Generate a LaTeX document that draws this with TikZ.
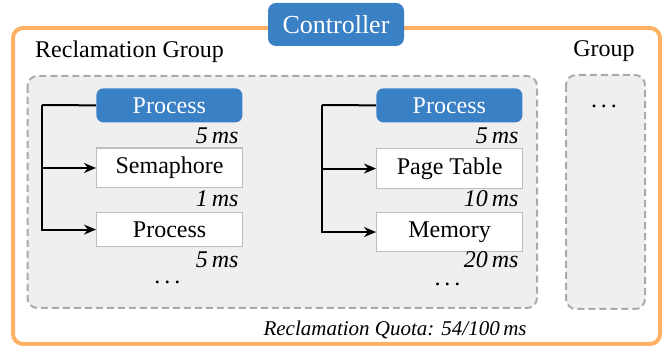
\documentclass[tikz,border=0pt]{standalone}
\usepackage{fontspec}
\setmainfont{Liberation Serif}
\usetikzlibrary{arrows.meta}

\definecolor{ctrlblue}{RGB}{58,128,196}
\definecolor{quotaorange}{RGB}{255,178,102}
\definecolor{groupfill}{RGB}{239,239,239}
\definecolor{groupline}{RGB}{170,170,170}
\definecolor{boxline}{RGB}{190,190,190}

\newcommand{\moredots}{.\,.\,.}

\tikzset{
  body/.style={font=\fontsize{12}{14}\selectfont},
  outerframe/.style={draw=quotaorange, line width=2pt, rounded corners=5pt},
  groupbox/.style={draw=groupline, fill=groupfill, line width=1pt,
    dash pattern=on 3.5pt off 2pt, rounded corners=5pt},
  ctrlbox/.style={fill=ctrlblue, text=white, rounded corners=4pt,
    minimum width=68pt, minimum height=21.5pt, inner sep=0pt,
    font=\fontsize{13}{15}\selectfont},
  procbox/.style={body, fill=ctrlblue, text=white, rounded corners=3.5pt,
    minimum width=73pt, inner xsep=2pt, inner ysep=4.5pt, anchor=north west},
  resbox/.style={body, fill=white, draw=boxline, line width=0.6pt,
    minimum width=73pt, inner xsep=2pt, inner ysep=4.5pt, anchor=north west},
  cost/.style={font=\fontsize{12}{14}\selectfont\itshape, anchor=base east, inner sep=0pt},
  quotalabel/.style={font=\fontsize{10.5}{12}\selectfont\itshape, anchor=base east, inner sep=0pt},
  heading/.style={body, anchor=base, inner sep=0pt},
  ellipsis/.style={body, anchor=base, inner sep=0pt},
  conn/.style={draw=black, line width=1pt, -{Stealth[length=6pt,width=5pt]}},
  plain/.style={draw=black, line width=1pt},
}

\begin{document}
\begin{tikzpicture}[x=0.5pt,y=-0.5pt]
  \useasboundingbox (0,0) rectangle (671,347);

  % quota frame of the controller
  \draw[outerframe] (13,28) rectangle (660,344);
  \node[ctrlbox] (ctrl) at (336,24.5) {Controller};

  % group titles
  \node[heading] (rgtitle) at (129.5,58) {Reclamation Group};
  \node[heading] (gtitle) at (604,57) {Group};

  % group containers
  \draw[groupbox] (27.5,76) rectangle (537,308);
  \draw[groupbox] (566,75) rectangle (645,309);
  \node[ellipsis] (gdots) at (604,107.5) {\moredots};

  % first process and its resources
  \node[procbox] (p1) at (96,88) {Process};
  \node[resbox] (s1) at (96,147.5) {Semaphore};
  \node[resbox] (q1) at (96,212) {Process};
  \node[cost] (c11) at (239,144) {5\,ms};
  \node[cost] (c12) at (239,207) {1\,ms};
  \node[cost] (c13) at (239,268) {5\,ms};
  \node[ellipsis] (d1) at (167.5,283.5) {\moredots};

  \coordinate (j1) at (42,105);
  \draw[plain] (p1.west) -- (j1);
  \draw[conn] (j1) |- (s1.west);
  \draw[conn] (j1) |- (q1.west);

  % second process and its resources
  \node[procbox] (p2) at (376,88) {Process};
  \node[resbox] (s2) at (376,148) {Page Table};
  \node[resbox] (q2) at (376,212) {Memory};
  \node[cost] (c21) at (519,144) {5\,ms};
  \node[cost] (c22) at (519,207) {10\,ms};
  \node[cost] (c23) at (519,268) {20\,ms};
  \node[ellipsis] (d2) at (447.5,286) {\moredots};

  \coordinate (j2) at (322,105);
  \draw[plain] (p2.west) -- (j2);
  \draw[conn] (j2) |- (s2.west);
  \draw[conn] (j2) |- (q2.west);

  % quota of the reclamation group
  \node[quotalabel] (quota) at (527,336) {Reclamation Quota: 54/100\,ms};
\end{tikzpicture}
\end{document}
